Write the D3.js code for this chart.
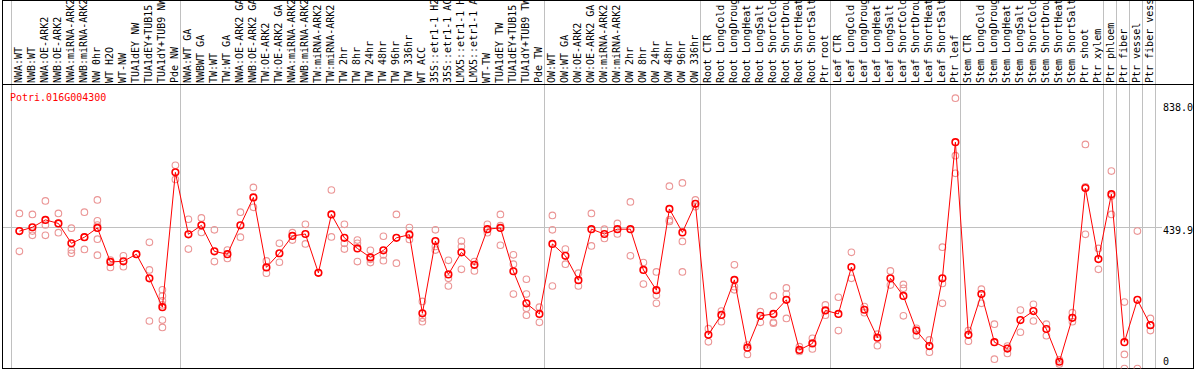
<!DOCTYPE html>
<html>
<head>
<meta charset="utf-8">
<script src="https://cdn.jsdelivr.net/npm/d3@7"></script>
<style>
  body { margin: 0; background: #fff; }
  svg { display: block; font-family: "DejaVu Sans Mono", monospace; font-size: 10px; }
</style>
</head>
<body>
<div id="graph"></div>
<script>
// category groups (labels as they appear, cut at 14 chars)
const groupNW = ["NWA:WT", "NWB:WT", "NWA:OE-ARK2", "NWB:OE-ARK2", "NWA:miRNA-ARK2", "NWB:miRNA-ARK2",
  "NW 0hr", "WT H2O", "WT-NW", "TUA1dEY NW", "TUA1dEY+TUB15", "TUA1dY+TUB9 NW", "Pde NW"];
const groupTW = ["NWA:WT GA", "NWBWT GA", "TW:WT", "TW:WT GA", "NWA:OE-ARK2 GA", "NWB:OE-ARK2 GA",
  "TW:OE-ARK2", "TW:OE-ARK2 GA", "NWA:miRNA-ARK2", "NWB:miRNA-ARK2", "TW:miRNA-ARK2", "TW:miRNA-ARK2",
  "TW 2hr", "TW 8hr", "TW 24hr", "TW 48hr", "TW 96hr", "TW 336hr", "WT ACC", "35S::etr1-1 H2",
  "35S::etr1-1 AC", "LMX5::etr1-1 H", "LMX5::etr1-1 A", "WT-TW", "TUA1dEY TW", "TUA1dEY+TUB15",
  "TUA1dY+TUB9 TW", "Pde TW"];
const groupOW = ["OW:WT", "OW:WT GA", "OW:OE-ARK2", "OW:OE-ARK2 GA", "OW:miRNA-ARK2", "OW:miRNA-ARK2",
  "OW 2hr", "OW 8hr", "OW 24hr", "OW 48hr", "OW 96hr", "OW 336hr"];
const groupRoot = ["Root CTR", "Root LongCold", "Root LongDroug", "Root LongHeat", "Root LongSalt",
  "Root ShortCold", "Root ShortDrou", "Root ShortHeat", "Root ShortSalt", "Ptr root"];
const groupLeaf = ["Leaf CTR", "Leaf LongCold", "Leaf LongDroug", "Leaf LongHeat", "Leaf LongSalt",
  "Leaf ShortCold", "Leaf ShortDrou", "Leaf ShortHeat", "Leaf ShortSalt", "Ptr leaf"];
const groupStem = ["Stem CTR", "Stem LongCold", "Stem LongDroug", "Stem LongHeat", "Stem LongSalt",
  "Stem ShortCold", "Stem ShortDrou", "Stem ShortHeat", "Stem ShortSalt", "Ptr shoot", "Ptr xylem"];
const groupsPtr = [["Ptr phloem"], ["Ptr fiber"], ["Ptr vessel"], ["Ptr fiber vess"]];

const groups = [groupNW, groupTW, groupOW, groupRoot, groupLeaf, groupStem, ...groupsPtr];

const geneName = "Potri.016G004300";
const yTicks = [838.0, 439.9, 0];
const yGrid = [439.9];

// mean expression per sample (the red line)
const means = [428, 440, 463, 452, 390, 409, 438, 332, 334, 356, 281, 191, 611,
  418, 446, 365, 356, 446, 533, 315, 359, 413, 419, 298, 480, 407, 374, 346, 368, 407, 417,
  172, 397, 293, 362, 323, 434, 438, 303, 203, 170,
  388, 351, 275, 434, 419, 434, 434, 307, 244, 497, 424, 513,
  105, 167, 276, 65, 164, 170, 214, 58, 78, 181,
  170, 316, 183, 96, 281, 226, 118, 70, 281, 705,
  105, 232, 82, 62, 151, 179, 123, 21, 158, 562, 341,
  543, 82, 214, 135];

// replicate values per sample (pink circles)
const replicates = [
  [483, 428, 365], [480, 428, 415], [522, 447, 415], [483, 452, 423], [437, 369, 359],
  [487, 409, 371], [525, 460, 447, 403, 353], [338, 315], [351, 317], [356],
  [393, 307, 148], [245, 226, 211, 198, 151, 128], [633, 589],
  [465, 372], [469, 424], [432, 333], [369, 343], [487, 409], [564, 502], [335, 297],
  [390, 331], [423, 400], [449, 388], [298], [556, 410], [449, 390, 372], [400, 390, 333],
  [368, 330, 340], [412, 354, 336], [480, 328], [439, 402], [209, 157, 146], [432, 380, 369],
  [337, 281, 257], [397, 380, 309], [333, 304], [449, 423], [480, 384, 445], [354, 325, 232],
  [278, 232, 188, 166], [191, 144],
  [477, 432, 257], [372, 325], [297, 257], [483, 382], [434, 405], [452, 419], [519, 351],
  [330, 263], [301, 228, 203], [568, 463, 458], [578, 396, 301], [525, 504],
  [124, 83], [179, 146], [323, 255, 245], [73, 44], [177, 144], [226, 144, 141],
  [251, 232, 156], [68, 53], [94, 61], [198, 166],
  [222, 118], [362, 281], [193, 174], [107, 71], [304, 260], [262, 250, 164], [125, 102],
  [89, 51], [378, 265, 203], [842, 663, 608],
  [118, 85], [247, 203], [138, 29], [70, 47], [182, 113], [200, 148], [138, 102], [27, 14],
  [174, 146], [698, 566, 418], [374, 309],
  [615, 537, 480], [207, 44, 0], [428, 0], [156, 135, 118]
];

function main() {
  const W = 1194, H = 370;
  const labelBase = 83, sepY = 84.5, bottom = 368.5, left = 2.5, right = 1193.5;
  const svg = d3.create("svg").attr("width", W).attr("height", H);

  const categories = groups.flat();
  const idx = categories.map((d, i) => i);

  const x = d3.scaleBand().domain(idx).range([10.9, 10.9 + 13 * categories.length]);
  const cx = i => x(i) + 8.5;
  const y = d3.scaleLinear().domain([0, 838]).range([368.5, 99.5]);

  // group separators
  let starts = [], n = 0;
  groups.forEach(g => { starts.push(n); n += g.length; });
  starts.push(n);
  svg.append("g").selectAll("line").data(starts).join("line")
    .attr("x1", d => Math.round(d < n ? x(d) : x(n - 1) + x.bandwidth()) + 0.5)
    .attr("x2", d => Math.round(d < n ? x(d) : x(n - 1) + x.bandwidth()) + 0.5)
    .attr("y1", 0).attr("y2", bottom)
    .attr("stroke", "#c0c0c0");

  // horizontal grid
  svg.append("g").selectAll("line").data(yGrid).join("line")
    .attr("x1", left).attr("x2", 1162)
    .attr("y1", d => Math.round(y(d)) + 0.5).attr("y2", d => Math.round(y(d)) + 0.5)
    .attr("stroke", "#c0c0c0");

  // sample labels
  svg.append("g").selectAll("text").data(categories).join("text")
    .attr("transform", (d, i) => `translate(${cx(i) + 3},${labelBase}) rotate(-90)`)
    .attr("fill", "#000")
    .text(d => d);

  // frame
  svg.append("rect").attr("x", left).attr("y", 0.5)
    .attr("width", right - left).attr("height", bottom - 0.5)
    .attr("fill", "none").attr("stroke", "#000");
  svg.append("line").attr("x1", left).attr("x2", right)
    .attr("y1", sepY).attr("y2", sepY).attr("stroke", "#000");

  // clip for the plot
  svg.append("clipPath").attr("id", "plotclip")
    .append("rect").attr("x", left).attr("y", sepY).attr("width", right - left).attr("height", bottom - sepY);
  const plot = svg.append("g").attr("clip-path", "url(#plotclip)");

  const reps = replicates.flatMap((r, i) => r.map(v => ({ i, v })));
  plot.append("g").selectAll("circle").data(reps).join("circle")
    .attr("cx", d => cx(d.i)).attr("cy", d => y(d.v)).attr("r", 3.3)
    .attr("fill", "none").attr("stroke", "#eb9696").attr("stroke-width", 1.1);

  plot.append("path")
    .datum(means)
    .attr("fill", "none").attr("stroke", "#ff0000").attr("stroke-width", 1)
    .attr("d", d3.line().x((d, i) => cx(i)).y(d => y(d)));

  plot.append("g").selectAll("circle").data(means).join("circle")
    .attr("cx", (d, i) => cx(i)).attr("cy", d => y(d)).attr("r", 3.3)
    .attr("fill", "none").attr("stroke", "#ff0000").attr("stroke-width", 1.6);

  // gene name
  svg.append("text").attr("x", 10).attr("y", 101).attr("fill", "#ff0000").text(geneName);

  // right axis labels
  svg.append("g").selectAll("text").data(yTicks).join("text")
    .attr("x", 1163)
    .attr("y", d => Math.max(111, Math.min(365, y(d) + 7)))
    .attr("fill", "#000")
    .text(d => d === 0 ? "0" : d.toFixed(1));

  document.getElementById("graph").appendChild(svg.node());
}

main();
</script>
</body>
</html>
